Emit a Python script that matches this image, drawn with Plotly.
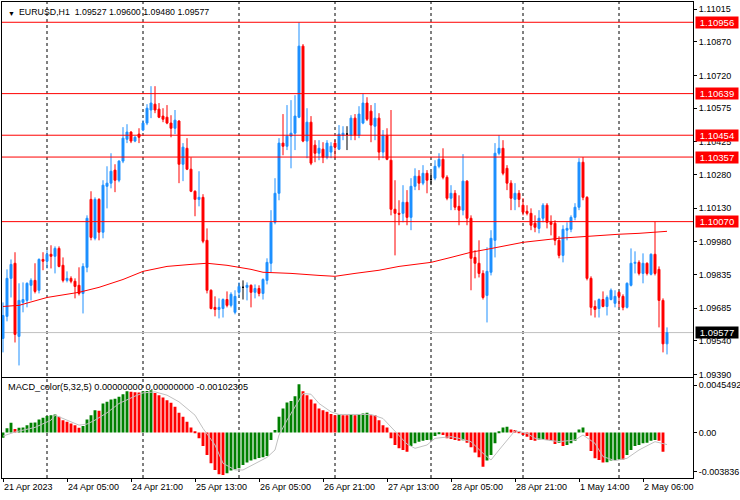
import plotly.graph_objects as go

# ---------------- data ----------------
open_ = [1.09551,1.09649,1.09818,1.09885,1.09560,1.09711,1.09720,1.09787,1.09809,1.09765,
1.09902,1.09894,1.09925,1.09916,1.09951,1.09876,1.09809,1.09818,1.09805,1.09787,
1.09751,1.09867,1.10169,1.09996,1.10169,1.10023,1.10227,1.10241,1.10299,1.10254,
1.10339,1.10436,1.10468,1.10428,1.10459,1.10477,1.10508,1.10566,1.10592,1.10570,
1.10539,1.10534,1.10508,1.10485,1.10517,1.10325,1.10396,1.10303,1.10205,1.10169,
1.10178,1.09987,1.09765,1.09689,1.09680,1.09684,1.09724,1.09698,1.09667,1.09756,
1.09778,1.09778,1.09787,1.09756,1.09773,1.09751,1.09809,1.09885,1.10067,1.10196,
1.10419,1.10405,1.10450,1.10463,1.10534,1.10850,1.10428,1.10512,1.10410,1.10374,
1.10392,1.10356,1.10379,1.10419,1.10392,1.10454,1.10459,1.10454,1.10530,1.10454,
1.10508,1.10597,1.10561,1.10494,1.10530,1.10379,1.10454,1.10343,1.10125,1.10107,
1.10107,1.10156,1.10089,1.10227,1.10272,1.10241,1.10285,1.10258,1.10263,1.10316,
1.10347,1.10267,1.10174,1.10196,1.10138,1.10121,1.10250,1.10085,1.09911,1.09885,
1.09840,1.09742,1.09845,1.09987,1.10374,1.10396,1.10307,1.10241,1.10169,1.10196,
1.10143,1.10116,1.10107,1.10063,1.10040,1.10085,1.10143,1.10067,1.10063,1.09987,
1.09920,1.10032,1.10036,1.10089,1.10134,1.10334,1.10178,1.09818,1.09693,1.09684,
1.09724,1.09693,1.09724,1.09707,1.09756,1.09738,1.09689,1.09787,1.09885,1.09889,
1.09840,1.09885,1.09836,1.09925,1.09858,1.09720,1.09527]

high = [1.09711,1.09858,1.09902,1.09934,1.09796,1.09800,1.09800,1.09818,1.09885,1.09907,
1.09934,1.09943,1.09965,1.09960,1.09960,1.09911,1.09849,1.09827,1.09818,1.09867,
1.09885,1.10098,1.10205,1.10178,1.10174,1.10254,1.10316,1.10374,1.10325,1.10343,
1.10490,1.10503,1.10472,1.10450,1.10485,1.10521,1.10592,1.10672,1.10672,1.10597,
1.10574,1.10588,1.10543,1.10566,1.10521,1.10419,1.10441,1.10356,1.10209,1.10294,
1.10192,1.10040,1.09769,1.09738,1.09729,1.09729,1.09760,1.09756,1.09765,1.09800,
1.09809,1.09800,1.09791,1.09791,1.09787,1.09818,1.09907,1.10121,1.10263,1.10441,
1.10548,1.10588,1.10610,1.10632,1.10956,1.10859,1.10574,1.10539,1.10432,1.10432,
1.10423,1.10432,1.10423,1.10432,1.10499,1.10494,1.10494,1.10543,1.10548,1.10583,
1.10639,1.10623,1.10588,1.10597,1.10552,1.10477,1.10485,1.10566,1.10254,1.10165,
1.10232,1.10210,1.10263,1.10307,1.10299,1.10321,1.10299,1.10290,1.10343,1.10374,
1.10396,1.10276,1.10232,1.10210,1.10187,1.10370,1.10254,1.10098,1.09943,1.09987,
1.09854,1.09956,1.10032,1.10419,1.10454,1.10432,1.10321,1.10254,1.10241,1.10210,
1.10174,1.10143,1.10129,1.10098,1.10121,1.10152,1.10152,1.10098,1.10076,1.10005,
1.10054,1.10067,1.10098,1.10152,1.10352,1.10357,1.10183,1.09827,1.09720,1.09729,
1.09760,1.09742,1.09773,1.09765,1.09760,1.09747,1.09800,1.09951,1.09938,1.09898,
1.09929,1.09889,1.09929,1.10070,1.09871,1.09729,1.09600]

low = [1.09489,1.09627,1.09733,1.09533,1.09431,1.09667,1.09689,1.09720,1.09751,1.09751,
1.09854,1.09862,1.09862,1.09840,1.09867,1.09800,1.09800,1.09796,1.09729,1.09742,
1.09662,1.09845,1.09987,1.09987,1.09987,1.09996,1.10129,1.10218,1.10201,1.10245,
1.10330,1.10419,1.10419,1.10423,1.10419,1.10472,1.10499,1.10530,1.10552,1.10530,
1.10512,1.10503,1.10445,1.10459,1.10241,1.10250,1.10299,1.10201,1.10094,1.10138,
1.09974,1.09751,1.09680,1.09649,1.09640,1.09644,1.09689,1.09689,1.09658,1.09733,
1.09724,1.09720,1.09689,1.09729,1.09738,1.09724,1.09791,1.09845,1.10058,1.10165,
1.10365,1.10388,1.10307,1.10388,1.10530,1.10423,1.10352,1.10321,1.10334,1.10343,
1.10330,1.10347,1.10352,1.10352,1.10388,1.10432,1.10388,1.10432,1.10432,1.10441,
1.10503,1.10517,1.10423,1.10432,1.10343,1.10352,1.10343,1.10098,1.09920,1.10054,
1.10067,1.10054,1.10032,1.10210,1.10210,1.10232,1.10196,1.10232,1.10254,1.10307,
1.10258,1.10165,1.10121,1.10121,1.10054,1.10098,1.10054,1.09765,1.09818,1.09822,
1.09724,1.09622,1.09831,1.09911,1.10365,1.10276,1.10210,1.10121,1.10121,1.10134,
1.10098,1.10098,1.10032,1.10023,1.10018,1.10067,1.10040,1.10009,1.09965,1.09907,
1.09889,1.09987,1.10023,1.10076,1.10121,1.10165,1.09809,1.09653,1.09644,1.09644,
1.09689,1.09653,1.09720,1.09689,1.09689,1.09676,1.09684,1.09782,1.09840,1.09831,
1.09796,1.09831,1.09831,1.09831,1.09600,1.09489,1.09480]

close_ = [1.09653,1.09818,1.09880,1.09569,1.09720,1.09724,1.09796,1.09809,1.09760,1.09902,
1.09894,1.09925,1.09916,1.09951,1.09871,1.09809,1.09818,1.09805,1.09782,1.09751,
1.09871,1.10085,1.10000,1.10169,1.10023,1.10232,1.10241,1.10294,1.10254,1.10339,
1.10441,1.10468,1.10428,1.10445,1.10445,1.10508,1.10574,1.10597,1.10566,1.10534,
1.10525,1.10508,1.10485,1.10521,1.10325,1.10401,1.10303,1.10205,1.10169,1.10178,
1.09983,1.09765,1.09684,1.09680,1.09689,1.09724,1.09698,1.09747,1.09738,1.09782,
1.09778,1.09787,1.09756,1.09773,1.09751,1.09813,1.09889,1.10067,1.10196,1.10419,
1.10405,1.10450,1.10463,1.10539,1.10850,1.10428,1.10512,1.10330,1.10374,1.10396,
1.10356,1.10419,1.10405,1.10401,1.10459,1.10463,1.10459,1.10530,1.10454,1.10548,
1.10597,1.10525,1.10499,1.10530,1.10379,1.10454,1.10347,1.10125,1.10107,1.10103,
1.10156,1.10089,1.10227,1.10272,1.10241,1.10285,1.10254,1.10258,1.10316,1.10347,
1.10267,1.10174,1.10196,1.10134,1.10121,1.10250,1.10085,1.09907,1.09885,1.09840,
1.09733,1.09849,1.09996,1.10374,1.10396,1.10285,1.10241,1.10174,1.10196,1.10169,
1.10112,1.10107,1.10054,1.10045,1.10085,1.10143,1.10067,1.10058,1.09987,1.09920,
1.10036,1.10040,1.10089,1.10134,1.10334,1.10178,1.09818,1.09689,1.09680,1.09724,
1.09693,1.09733,1.09765,1.09738,1.09738,1.09689,1.09796,1.09885,1.09889,1.09840,
1.09885,1.09840,1.09925,1.09840,1.09720,1.09527,1.09577]

# moving average read at selected bars
ma_bars = [0,4,11,19,24,30,35,41,47,51,56,62,65,72,79,83,88,94,99,107,112,117,121,125,130,139,149,154,159,166]
ma_vals = [1.09693,1.09698,1.09733,1.09756,1.09778,1.09813,1.09849,1.09871,1.09880,1.09885,
1.09876,1.09858,1.09845,1.09840,1.09831,1.09827,1.09840,1.09854,1.09871,1.09889,
1.09911,1.09934,1.09947,1.09960,1.09978,1.09996,1.10009,1.10014,1.10018,1.10027]

# MACD histogram (one per bar)
hist = [-0.00045,0.00034,0.00081,0.00028,0.00039,0.00042,0.00061,0.00081,0.00084,0.00109,
0.00123,0.00137,0.00145,0.00151,0.00131,0.00103,0.00089,0.00075,0.00061,0.00039,
0.00053,0.00109,0.00145,0.00187,0.00182,0.00243,0.00257,0.00277,0.00282,0.00299,
0.00321,0.00345,0.00341,0.00338,0.00336,0.00346,0.00349,0.00355,0.00332,0.00313,
0.00293,0.00271,0.00249,0.00215,0.00165,0.00131,0.00089,0.00042,0.00003,-0.00050,
-0.00115,-0.00190,-0.00260,-0.00316,-0.00352,-0.00358,-0.00344,-0.00321,-0.00310,-0.00302,
-0.00274,-0.00254,-0.00237,-0.00226,-0.00215,-0.00210,-0.00198,-0.00064,0.00020,0.00131,
0.00201,0.00251,0.00265,0.00305,0.00405,0.00346,0.00313,0.00277,0.00243,0.00201,
0.00187,0.00173,0.00154,0.00145,0.00151,0.00145,0.00144,0.00154,0.00145,0.00154,
0.00159,0.00165,0.00145,0.00144,0.00103,0.00061,0.00042,-0.00050,-0.00106,-0.00134,
-0.00148,-0.00162,-0.00115,-0.00092,-0.00078,-0.00070,-0.00064,-0.00061,-0.00031,-0.00014,
-0.00022,-0.00050,-0.00056,-0.00064,-0.00070,-0.00067,-0.00087,-0.00126,-0.00170,-0.00210,
-0.00288,-0.00237,-0.00190,-0.00092,0.00006,0.00042,0.00047,0.00025,0.00020,0.00006,
-0.00022,-0.00036,-0.00064,-0.00070,-0.00059,-0.00056,-0.00064,-0.00070,-0.00098,-0.00087,
-0.00115,-0.00106,-0.00092,-0.00070,0.00025,0.00042,-0.00031,-0.00156,-0.00218,-0.00232,
-0.00254,-0.00251,-0.00237,-0.00232,-0.00226,-0.00229,-0.00190,-0.00148,-0.00115,-0.00106,
-0.00092,-0.00087,-0.00070,-0.00064,-0.00070,-0.00162,0.0]

# signal line read at selected bars
sig_bars = [0,3,8,12,13,16,19,21,23,26,29,33,35,38,41,44,48,50,53,55,58,60,63,66,68,69,71,73,75,77,
79,82,84,88,92,95,98,101,103,106,108,112,114,117,120,122,124,127,128,131,133,136,139,143,145,148,150,153,156,159,163,166]
sig_vals = [-0.00031,0.00003,0.00042,0.00103,0.00145,0.00103,0.00061,0.00070,0.00103,0.00165,
0.00243,0.00305,0.00332,0.00341,0.00313,0.00257,0.00145,0.00034,-0.00106,-0.00260,
-0.00316,-0.00316,-0.00265,-0.00210,-0.00148,-0.00022,0.00103,0.00215,0.00327,0.00321,
0.00243,0.00173,0.00151,0.00151,0.00151,0.00117,0.00006,-0.00098,-0.00134,-0.00106,
-0.00050,-0.00036,-0.00050,-0.00078,-0.00176,-0.00232,-0.00148,-0.00022,0.00014,-0.00008,
-0.00050,-0.00064,-0.00078,-0.00064,-0.00022,-0.00092,-0.00204,-0.00237,-0.00218,-0.00148,
-0.00078,-0.00102305]

levels = [1.10956, 1.10639, 1.10454, 1.10357, 1.10070]
last_price = 1.09577
price_ticks = [1.11015,1.10870,1.10720,1.10575,1.10425,1.10280,1.10130,1.09980,1.09835,1.09685,1.09540,1.09390]
price_tick_text = ["1.11015","1.10870","1.10720","1.10575","1.10425","1.10280","1.10130","1.09980","1.09835","1.09685","1.09540","1.09390"]
time_tick_bars = [0,16,32,48,64,80,96,112,128,144,160]
time_tick_text = ["21 Apr 2023","24 Apr 05:00","24 Apr 21:00","25 Apr 13:00","26 Apr 05:00",
                  "26 Apr 21:00","27 Apr 13:00","28 Apr 05:00","28 Apr 21:00","1 May 14:00","2 May 06:00"]
day_sep_bars = [11,35,59,83,107,130,154]
macd_max, macd_min = 0.0045492, -0.003836

FONT = "Liberation Sans, Arial, sans-serif"
UP, DN, GREEN = "#1E90FF", "#FF0000", "#008000"

idx = list(range(len(close_)))
normal = [i for i in idx if open_[i] != close_[i]]
doji = [i for i in idx if open_[i] == close_[i]]

fig = go.Figure()
fig.add_trace(go.Candlestick(
    x=normal, open=[open_[i] for i in normal], high=[high[i] for i in normal],
    low=[low[i] for i in normal], close=[close_[i] for i in normal],
    increasing=dict(line=dict(color=UP, width=1), fillcolor=UP),
    decreasing=dict(line=dict(color=DN, width=1), fillcolor=DN),
    whiskerwidth=0, hoverinfo="skip", xaxis="x", yaxis="y", showlegend=False))
fig.add_trace(go.Candlestick(
    x=doji, open=[open_[i] for i in doji], high=[high[i] for i in doji],
    low=[low[i] for i in doji], close=[close_[i] for i in doji],
    increasing=dict(line=dict(color="black", width=1), fillcolor="black"),
    decreasing=dict(line=dict(color="black", width=1), fillcolor="black"),
    whiskerwidth=0, hoverinfo="skip", xaxis="x", yaxis="y", showlegend=False))
fig.add_trace(go.Scatter(x=ma_bars, y=ma_vals, mode="lines", line=dict(color=DN, width=1),
                         hoverinfo="skip", xaxis="x", yaxis="y", showlegend=False))

colors = [GREEN] + [GREEN if hist[i] > hist[i - 1] else DN for i in range(1, len(hist))]
fig.add_trace(go.Bar(x=idx, y=hist, marker=dict(color=colors, line=dict(width=0)), width=0.72,
                     hoverinfo="skip", xaxis="x2", yaxis="y2", showlegend=False))
fig.add_trace(go.Scatter(x=sig_bars, y=sig_vals, mode="lines", line=dict(color="#C0C0C0", width=1),
                         hoverinfo="skip", xaxis="x2", yaxis="y2", showlegend=False))

shapes = []
for b in day_sep_bars:
    shapes.append(dict(type="line", xref="x", yref="paper", x0=b, x1=b, y0=0, y1=1,
                       line=dict(color="black", width=1, dash="3px,3px"), layer="below"))
for lv in levels:
    shapes.append(dict(type="line", xref="paper", yref="y", x0=0, x1=1, y0=lv, y1=lv,
                       line=dict(color=DN, width=1)))
shapes.append(dict(type="line", xref="paper", yref="y", x0=0, x1=1, y0=last_price, y1=last_price,
                   line=dict(color="#C0C0C0", width=1), layer="below"))

ann = []
for lv in levels:
    ann.append(dict(xref="paper", x=1, xanchor="left", xshift=2, yref="y", y=lv, yanchor="middle",
                    text=f"{lv:.5f}", width=42, align="center", showarrow=False, bgcolor=DN, borderpad=0,
                    font=dict(color="white", size=9.5, family=FONT)))
ann.append(dict(xref="paper", x=1, xanchor="left", xshift=2, yref="y", y=last_price, yanchor="middle",
                text=f"{last_price:.5f}", width=42, align="center", showarrow=False, bgcolor="black",
                borderpad=0, font=dict(color="white", size=9.5, family=FONT)))
ann.append(dict(xref="paper", x=0, xanchor="left", xshift=4, yref="paper", y=1, yanchor="top", yshift=-6,
                text="▼", showarrow=False, font=dict(size=7, color="black", family=FONT)))
ann.append(dict(xref="paper", x=0, xanchor="left", xshift=15, yref="paper", y=1, yanchor="top", yshift=-3,
                text="EURUSD,H1  1.09527 1.09600 1.09480 1.09577", showarrow=False,
                font=dict(size=8.8, color="black", family=FONT)))
ann.append(dict(xref="paper", x=0, xanchor="left", xshift=4, yref="y2 domain", y=1, yanchor="top", yshift=-2,
                text="MACD_color(5,32,5) 0.00000000 0.00000000 -0.00102305", showarrow=False,
                font=dict(size=9.2, color="black", family=FONT)))

H_TOT = 476.0
main_bottom = (478 - 376.5) / H_TOT
macd_top = (478 - 378.3) / H_TOT
macd_span = macd_max - macd_min

fig.update_layout(
    width=740, height=500, margin=dict(l=2, r=47, t=2, b=22, autoexpand=False),
    paper_bgcolor="white", plot_bgcolor="white",
    font=dict(family=FONT, size=9, color="black"),
    showlegend=False, shapes=shapes, annotations=ann, boxgap=0.3, boxgroupgap=0.3,
    xaxis=dict(domain=[0, 1], range=[-0.25, 172.5], anchor="y", showticklabels=False, ticks="",
               showgrid=False, zeroline=False, showline=True, mirror=True, linecolor="black",
               linewidth=1, rangeslider=dict(visible=False), automargin=False),
    yaxis=dict(domain=[main_bottom, 1], range=[1.093818, 1.110461], side="right", anchor="x",
               tickvals=price_ticks, ticktext=price_tick_text, ticks="outside", ticklen=3,
               tickcolor="black", tickfont=dict(size=9, family=FONT), showgrid=False, zeroline=False,
               showline=True, mirror=True, linecolor="black", linewidth=1, automargin=False),
    xaxis2=dict(domain=[0, 1], range=[-0.25, 172.5], anchor="y2", tickvals=time_tick_bars,
                ticktext=time_tick_text, ticks="outside", ticklen=3, tickcolor="black",
                ticklabelposition="outside right", tickfont=dict(size=9, family=FONT),
                showgrid=False, zeroline=False, showline=True, mirror=True, linecolor="black",
                linewidth=1, automargin=False),
    yaxis2=dict(domain=[0, macd_top], range=[macd_min, macd_max], side="right", anchor="x2",
                tickvals=[macd_max - macd_span * 0.07, 0.0, macd_min + macd_span * 0.065],
                ticktext=["0.0045492", "0.00", "-0.003836"], ticks="outside", ticklen=3,
                tickcolor="black", tickfont=dict(size=9, family=FONT), showgrid=False, zeroline=False,
                showline=True, mirror=True, linecolor="black", linewidth=1, automargin=False),
)

fig.write_html("out.html", config={"displayModeBar": False},
               post_script="document.body.style.margin='0';document.body.style.overflow='hidden';")
